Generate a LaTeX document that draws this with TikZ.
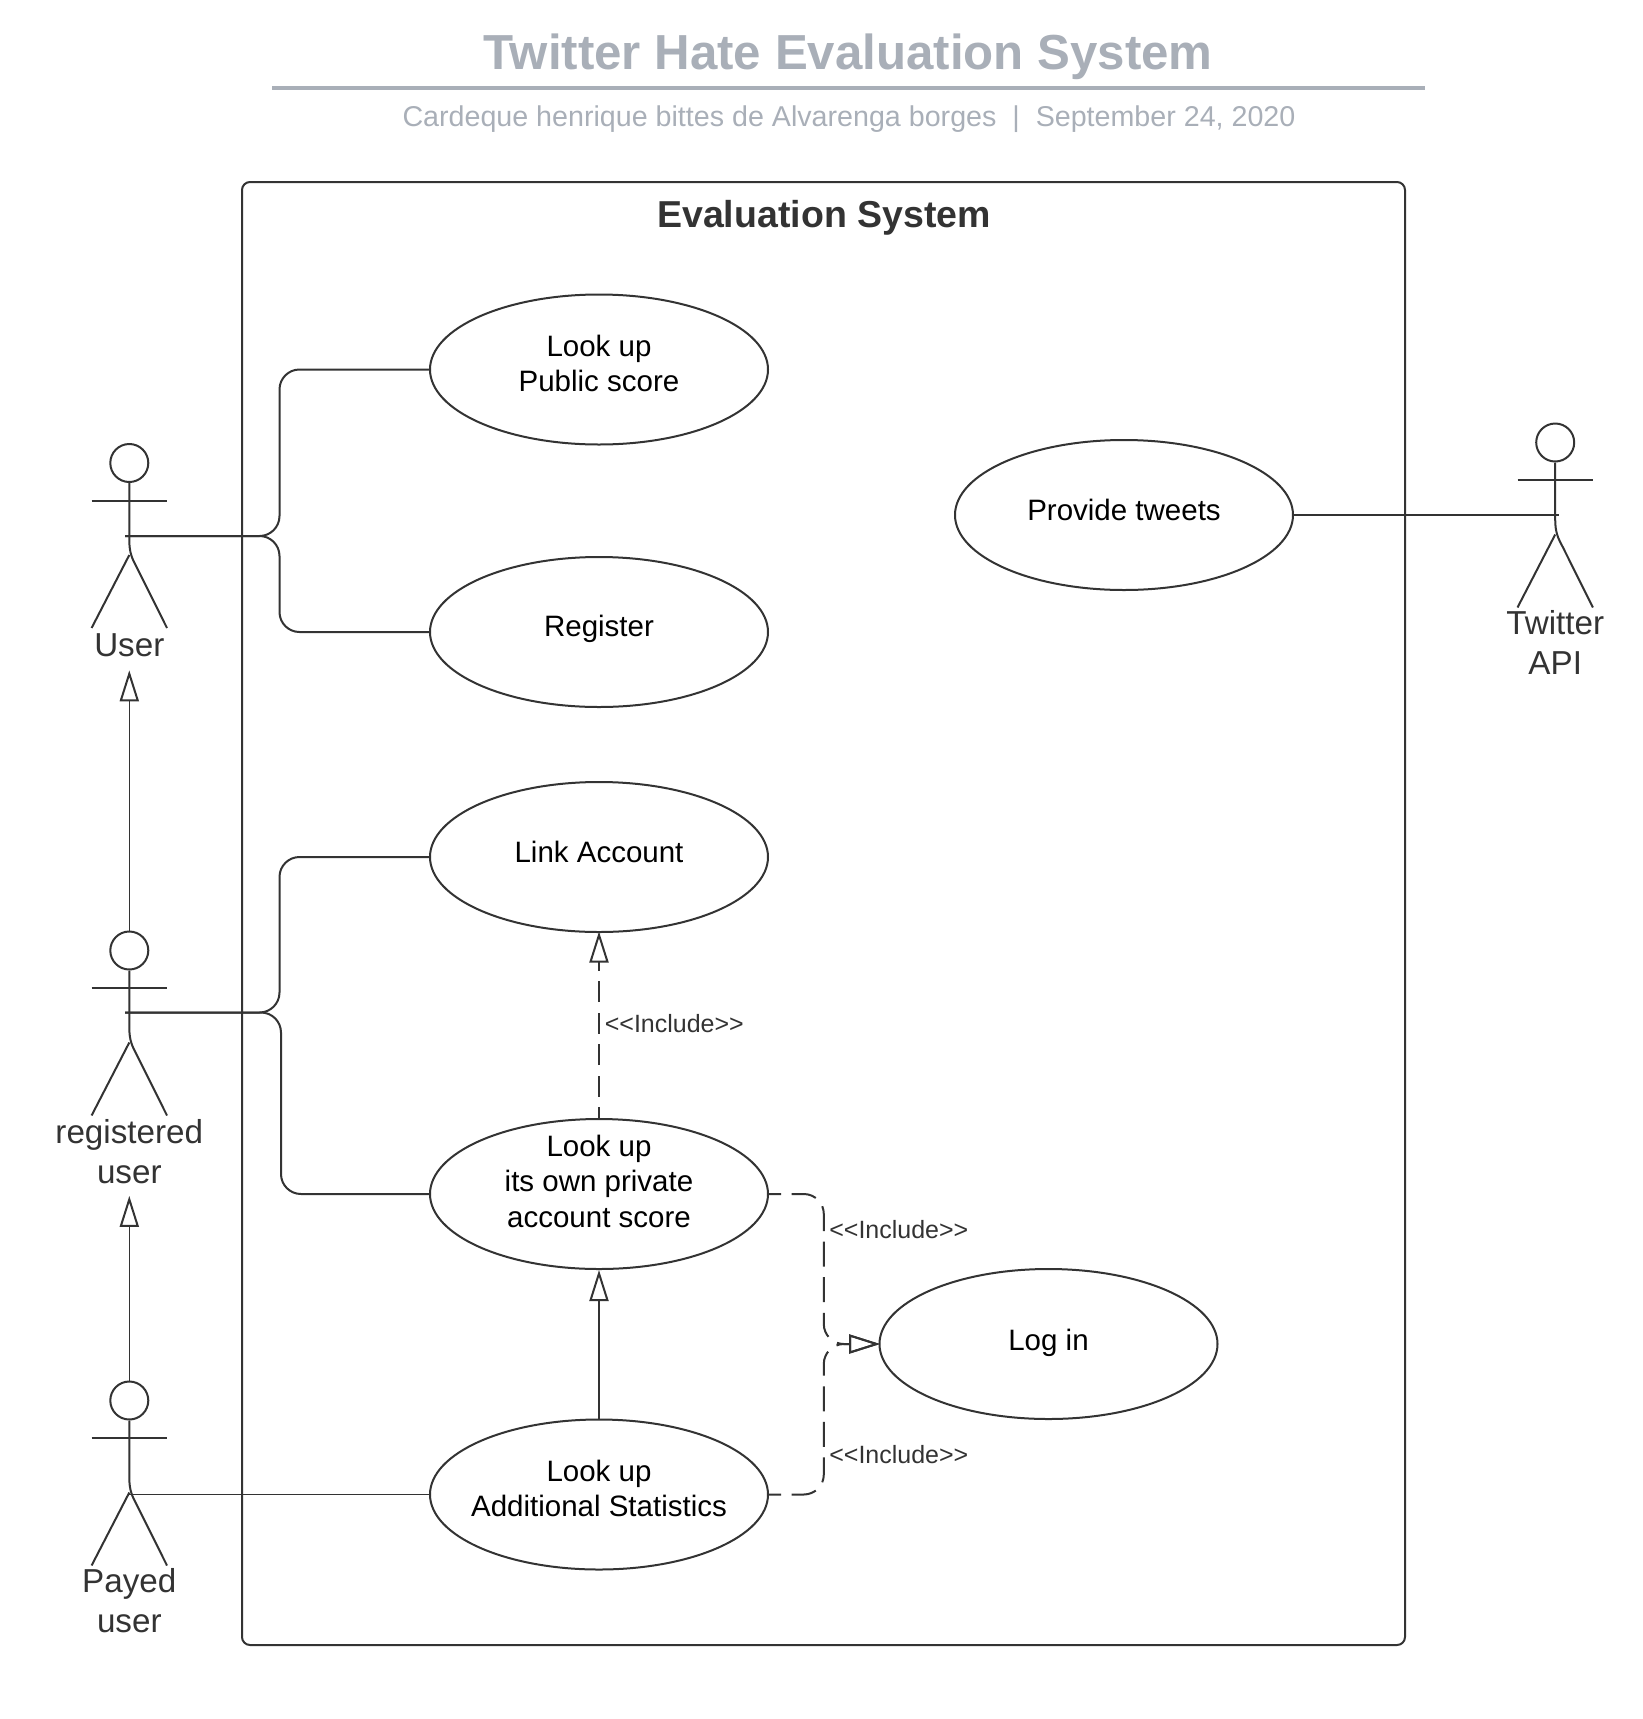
\documentclass[tikz,border=0pt]{standalone}
\usepackage{fontspec}
\setmainfont{Liberation Sans}
\usepackage{xcolor}
\usetikzlibrary{arrows.meta}
\usetikzlibrary{shapes.geometric}
\definecolor{inkgrey}{HTML}{333333}
\definecolor{titlegrey}{HTML}{A9AFB8}
\tikzset{
    usecase/.style = {ellipse, draw=inkgrey, line width=2pt, minimum width=338pt, minimum height=150pt, inner sep=0pt},
    usetext/.style = {align=center, text=black, yshift=6pt, font=\fontsize{29.5}{35.5}\selectfont},
    actortext/.style = {align=center, text=inkgrey, inner sep=0pt, font=\fontsize{33.2}{40}\selectfont},
    inctext/.style = {anchor=west, text=inkgrey, inner sep=0pt, font=\fontsize{25}{30}\selectfont},
    assoc/.style = {draw=inkgrey, line width=2pt, rounded corners=20pt},
    thinassoc/.style = {draw=inkgrey, line width=1pt},
    gen/.style = {draw=inkgrey, line width=1.2pt, -{Triangle[open,length=31pt,width=19pt,line width=2pt]}},
    inc/.style = {draw=inkgrey, line width=2pt, rounded corners=20pt, dash pattern=on 25pt off 10.6pt, dash phase=13pt, shorten >=-1.5pt, -{Triangle[open,length=31pt,width=19pt,line width=2pt]}},
    actor/.pic = {
        \node[circle, draw=inkgrey, line width=2pt, minimum size=38pt, inner sep=0pt] (-head) at (0,0) {};
        \draw[inkgrey, line width=2pt] (-head.south) -- (0,77) .. controls (0,90) and (3,96) .. (7.3,104) -- (37.7,165);
        \draw[inkgrey, line width=2pt] (-37.7,37.5) -- (37.7,37.5);
        \draw[inkgrey, line width=2pt] (0,92) -- (-37.7,165);
    },
}
\begin{document}
\begin{tikzpicture}[x=1pt,y=-1pt]
\useasboundingbox (0,0) rectangle (1643,1719);
% header
\node[text=titlegrey, font=\fontsize{49.2}{58}\bfseries\selectfont] at (848,56.5) (title) {Twitter Hate Evaluation System};
\node[text=titlegrey, font=\fontsize{28.65}{35}\selectfont] at (849,119.3) (subtitle) {Cardeque henrique bittes de Alvarenga borges~~|~~September 24, 2020};
\coordinate (ruleleft) at (272,87.6);
\coordinate (ruleright) at (1425,87.6);
\draw[titlegrey, line width=4pt] (ruleleft) -- (ruleright);
% system frame
\node[draw=inkgrey, line width=2pt, rounded corners=8pt, minimum width=1163pt, minimum height=1463pt, inner sep=0pt] at (823.5,913.5) (system) {};
\node[text=inkgrey, font=\fontsize{37.5}{44}\bfseries\selectfont] at (824,217.8) (systemname) {Evaluation System};
% use cases
\node[usecase, label={[usetext]center:{Look up\\Public score}}] at (599,369.5) (public) {};
\node[usecase, label={[usetext,yshift=-3.2pt]center:{Register}}] at (599,632) (register) {};
\node[usecase, label={[usetext,yshift=-1pt]center:{Link Account}}] at (599,857) (link) {};
\node[usecase, label={[usetext,yshift=6.6pt]center:{Look up\\its own private\\account score}}] at (599,1194) (private) {};
\node[usecase, label={[usetext]center:{Look up\\Additional Statistics}}] at (599,1494.5) (stats) {};
\node[usecase, label={[usetext,yshift=-4.4pt]center:{Log in}}] at (1048.5,1344) (login) {};
\node[usecase, label={[usetext,yshift=-1pt]center:{Provide tweets}}] at (1124,515) (tweets) {};
% actors
\pic (user) at (129.3,463) {actor};
\pic (reg) at (129.3,950.5) {actor};
\pic (payed) at (129.3,1400.5) {actor};
\pic (api) at (1555.2,442.5) {actor};
\node[actortext] at (129.3,645.5) (userlabel) {User};
\node[actortext] at (129.3,1151.5) (reglabel) {registered\\user};
\node[actortext] at (129.3,1601) (payedlabel) {Payed\\user};
\node[actortext] at (1555.2,642.5) (apilabel) {Twitter\\API};
% connector ends
\coordinate (userhand) at (125,536);
\coordinate (reghand) at (125,1012.5);
\coordinate (payedhand) at (129.3,1494.5);
\coordinate (apihand) at (1558.5,515);
\coordinate (busa) at (279.5,450);
\coordinate (busaa) at (279.5,580);
\coordinate (busb) at (279.5,950);
\coordinate (busc) at (281,1100);
\coordinate (busd) at (823.8,1270);
\coordinate (buse) at (823.8,1420);
%
\draw[assoc] (userhand) -| (busa) |- (public.west);
\draw[assoc] (userhand) -| (busaa) |- (register.west);
\draw[assoc] (reghand) -| (busb) |- (link.west);
\draw[assoc] (reghand) -| (busc) |- (private.west);
\draw[thinassoc] (payedhand) -- (stats.west);
\draw[assoc] (tweets.east) -- (apihand);
%
\draw[gen, shorten >=13pt] (reg-head.north) -- (userlabel.south);
\draw[gen, shorten >=12pt] (payed-head.north) -- (reglabel.south);
\draw[gen, line width=2pt] (stats.north) -- (private.south);
%
\draw[inc, rounded corners=0pt, dash pattern=on 21pt off 10.5pt, dash phase=10pt] (private.north) -- (link.south);
\draw[inc] (private.east) -| (busd) |- (login.west);
\draw[inc] (stats.east) -| (buse) |- (login.west);
%
\node[inctext] at (604.6,1024) (incone) {<{}<Include>{}>};
\node[inctext] at (829.1,1230) (inctwo) {<{}<Include>{}>};
\node[inctext] at (829.1,1454.7) (incthree) {<{}<Include>{}>};
\end{tikzpicture}
\end{document}
